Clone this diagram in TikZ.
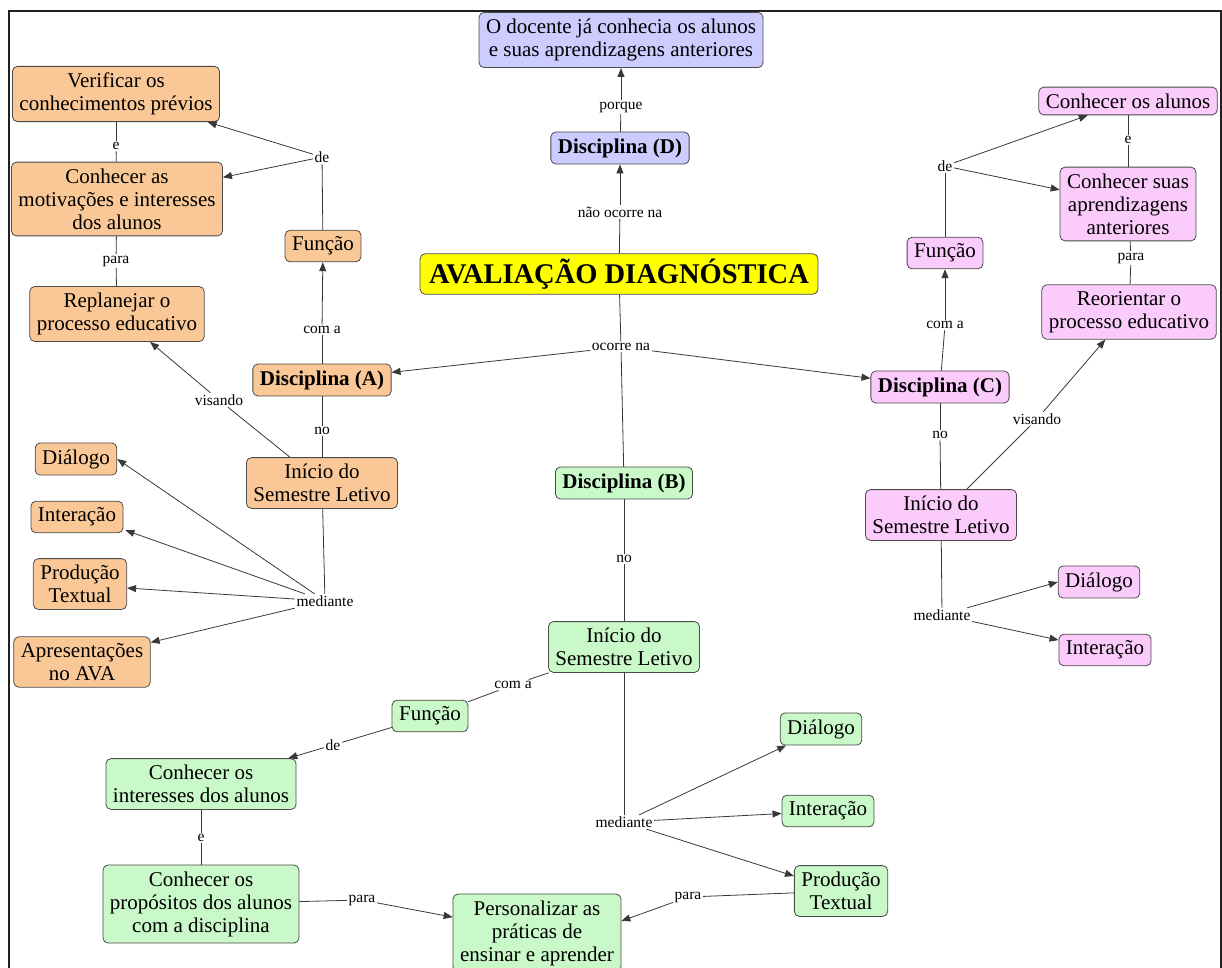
\documentclass[tikz,border=0pt]{standalone}
\usepackage{fontspec}
\setmainfont{Liberation Serif}
\usetikzlibrary{arrows.meta}

\definecolor{orangefill}{HTML}{F9C896}
\definecolor{bluefill}{HTML}{CCCCFF}
\definecolor{pinkfill}{HTML}{FBCBFB}
\definecolor{greenfill}{HTML}{C9F8C9}
\definecolor{titlefill}{HTML}{FFFF00}
\definecolor{boxline}{HTML}{4A4A4A}
\definecolor{linkgray}{HTML}{383838}
\definecolor{framegray}{HTML}{202020}

\begin{document}
\begin{tikzpicture}[x=1pt,y=-1pt,
  concept/.style={draw=boxline, rounded corners=5pt, line width=0.8pt,
    align=center, inner xsep=7pt, inner ysep=6.5pt,
    font=\fontsize{21}{23}\selectfont},
  orangebox/.style={concept, fill=orangefill},
  bluebox/.style={concept, fill=bluefill},
  pinkbox/.style={concept, fill=pinkfill},
  greenbox/.style={concept, fill=greenfill},
  boldtext/.style={font=\fontsize{21}{23}\selectfont\bfseries},
  titlebox/.style={concept, fill=titlefill, inner xsep=9pt, inner ysep=5pt,
    font=\fontsize{28.5}{30}\selectfont\bfseries},
  lab/.style={inner sep=1.5pt, font=\fontsize{15.5}{17}\selectfont},
  link/.style={draw=linkgray, line width=0.8pt},
  arr/.style={link, -{Triangle[length=9pt,width=7pt]}},
]
\useasboundingbox (0,0) rectangle (1222,967);

% outer frame (open at the bottom edge of the page)
\draw[framegray, line width=2pt] (8.5,990) -- (8.5,10.5) -- (1220.5,10.5) -- (1220.5,990);

% ---------- centre ----------
\node[titlebox] (title) at (619,274) {AVALIAÇÃO DIAGNÓSTICA};

% ---------- discipline D (blue) ----------
\node[bluebox] (doc) at (621,40) {O docente já conhecia os alunos\\e suas aprendizagens anteriores};
\node[bluebox, boldtext] (dD) at (620,148) {Disciplina (D)};
\node[lab] (lNao) at (620,212) {não ocorre na};
\node[lab] (lPorque) at (621,107) {porque};

% ---------- discipline A (orange) ----------
\node[orangebox] (verif) at (116,94) {Verificar os\\conhecimentos prévios};
\node[orangebox] (motiv) at (117,199) {Conhecer as\\motivações e interesses\\dos alunos};
\node[orangebox] (replan) at (117,314) {Replanejar o\\processo educativo};
\node[orangebox] (funA) at (323,246) {Função};
\node[orangebox, boldtext] (dA) at (322,380) {Disciplina (A)};
\node[orangebox] (iniA) at (322,483) {Início do\\Semestre Letivo};
\node[orangebox] (dialA) at (76,459) {Diálogo};
\node[orangebox] (interA) at (77,517) {Interação};
\node[orangebox] (prodA) at (80,584) {Produção\\Textual};
\node[orangebox] (apresA) at (82,662) {Apresentações\\no AVA};

\node[lab] (lOcorre) at (621,347) {ocorre na};
\node[lab] (lComA) at (322,330) {com a};
\node[lab] (lDeA) at (322,157) {de};
\node[lab] (lEA) at (116,146) {e};
\node[lab] (lParaA) at (116,261) {para};
\node[lab] (lVisA) at (219,400) {visando};
\node[lab] (lNoA) at (322,431) {no};
\node[lab] (lMedA) at (325,601) {mediante};

% ---------- discipline C (pink) ----------
\node[pinkbox] (conhA) at (1128,101) {Conhecer os alunos};
\node[pinkbox] (conhS) at (1128,204) {Conhecer suas\\aprendizagens\\anteriores};
\node[pinkbox] (reor) at (1129,312) {Reorientar o\\processo educativo};
\node[pinkbox] (funC) at (945,253) {Função};
\node[pinkbox, boldtext] (dC) at (940,387) {Disciplina (C)};
\node[pinkbox] (iniC) at (941,515) {Início do\\Semestre Letivo};
\node[pinkbox] (dialC) at (1099,582) {Diálogo};
\node[pinkbox] (interC) at (1105,650) {Interação};

\node[lab] (lComC) at (945,325) {com a};
\node[lab] (lDeC) at (945,166) {de};
\node[lab] (lEC) at (1128,140) {e};
\node[lab] (lParaC) at (1131,258) {para};
\node[lab] (lNoC) at (940,435) {no};
\node[lab] (lVisC) at (1037,419) {visando};
\node[lab] (lMedC) at (942,615) {mediante};

% ---------- discipline B (green) ----------
\node[greenbox, boldtext] (dB) at (624,483) {Disciplina (B)};
\node[greenbox] (iniB) at (624,647) {Início do\\Semestre Letivo};
\node[greenbox] (funB) at (430,716) {Função};
\node[greenbox] (interes) at (201,784) {Conhecer os\\interesses dos alunos};
\node[greenbox] (propos) at (201,904) {Conhecer os\\propósitos dos alunos\\com a disciplina};
\node[greenbox] (pers) at (537,933) {Personalizar as\\práticas de\\ensinar e aprender};
\node[greenbox] (dialB) at (821,729) {Diálogo};
\node[greenbox] (interB) at (828,811) {Interação};
\node[greenbox] (prodB) at (841,891) {Produção\\Textual};

\node[lab] (lNoB) at (624,559) {no};
\node[lab] (lComB) at (513,685) {com a};
\node[lab] (lDeB) at (333,745) {de};
\node[lab] (lEB) at (201,838) {e};
\node[lab] (lParaB1) at (362,900) {para};
\node[lab] (lMedB) at (624,822) {mediante};
\node[lab] (lParaB2) at (688,897) {para};

% ---------- links: centre and D ----------
\draw[link] (title) -- (lNao);
\draw[arr] (lNao) -- (dD);
\draw[link] (dD) -- (lPorque);
\draw[arr] (lPorque) -- (doc);
\draw[link] (title) -- (lOcorre);
\draw[arr] (lOcorre) -- (dA);
\draw[arr] (lOcorre) -- (dC);
\draw[link] (lOcorre) -- (dB);

% ---------- links: A ----------
\draw[link] (dA) -- (lComA);
\draw[arr] (lComA) -- (funA);
\draw[link] (funA) -- (lDeA);
\draw[arr] (lDeA) -- (verif);
\draw[arr] (lDeA) -- (motiv);
\draw[link] (verif) -- (lEA);
\draw[link] (lEA) -- (motiv);
\draw[link] (motiv) -- (lParaA);
\draw[link] (lParaA) -- (replan);
\draw[link] (dA) -- (lNoA);
\draw[link] (lNoA) -- (iniA);
\draw[link] (iniA) -- (lVisA);
\draw[arr] (lVisA) -- (replan);
\draw[link] (iniA) -- (lMedA);
\draw[arr] (lMedA) -- (dialA.east);
\draw[arr] (lMedA) -- ([xshift=2pt,yshift=3pt]interA.south east);
\draw[arr] (lMedA) -- ([yshift=-4pt]prodA.east);
\draw[arr] (lMedA) -- ([yshift=-6pt]apresA.north east);

% ---------- links: C ----------
\draw[link] (dC) -- (lComC);
\draw[arr] (lComC) -- (funC);
\draw[link] (funC) -- (lDeC);
\draw[arr] (lDeC) -- (conhA);
\draw[arr] (lDeC) -- (conhS);
\draw[link] (conhA) -- (lEC);
\draw[link] (lEC) -- (conhS);
\draw[link] (conhS) -- (lParaC);
\draw[link] (lParaC) -- (reor);
\draw[link] (dC) -- (lNoC);
\draw[link] (lNoC) -- (iniC);
\draw[link] (iniC) -- (lVisC);
\draw[arr] (lVisC) -- (reor);
\draw[link] (iniC) -- (lMedC);
\draw[arr] (lMedC) -- (dialC.west);
\draw[arr] (lMedC) -- (interC);

% ---------- links: B ----------
\draw[link] (dB) -- (lNoB);
\draw[link] (lNoB) -- (iniB);
\draw[link] (iniB) -- (lComB);
\draw[link] (lComB) -- (funB);
\draw[link] (funB) -- (lDeB);
\draw[arr] (lDeB) -- (interes);
\draw[link] (interes) -- (lEB);
\draw[link] (lEB) -- (propos);
\draw[link] (propos) -- (lParaB1);
\draw[arr] (lParaB1) -- (pers);
\draw[link] (iniB) -- (lMedB);
\draw[arr] (lMedB) -- (dialB);
\draw[arr] (lMedB) -- (interB);
\draw[arr] (lMedB) -- (prodB);
\draw[link] (prodB) -- (lParaB2);
\draw[arr] (lParaB2) -- ([yshift=12pt]pers.east);
\end{tikzpicture}
\end{document}
